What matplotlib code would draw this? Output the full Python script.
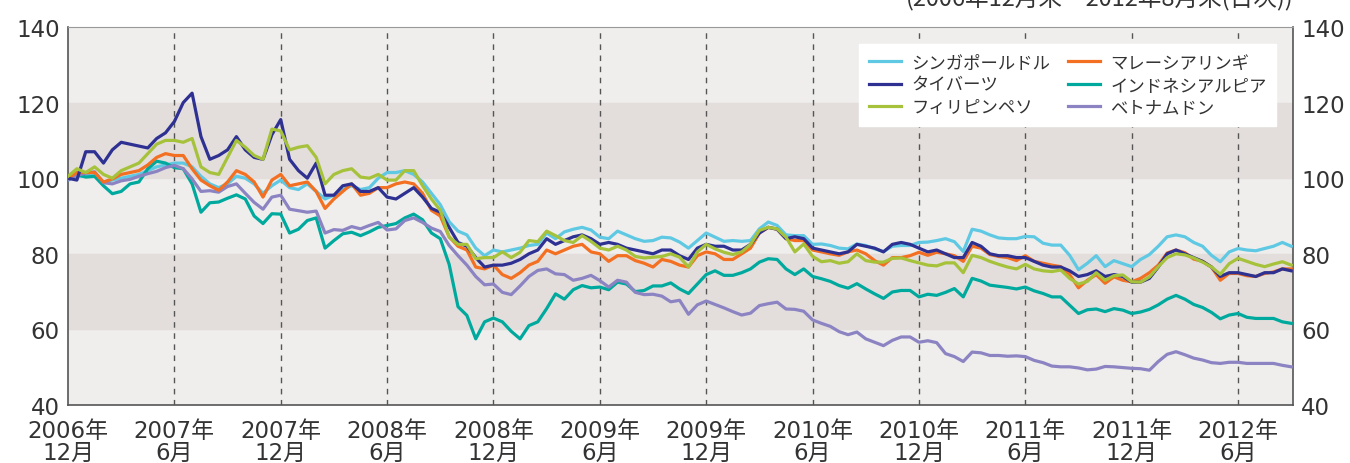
import numpy as np
import matplotlib
matplotlib.use("Agg")
import matplotlib.pyplot as plt

plt.rcParams['font.family'] = ['DejaVu Sans', 'Noto Sans CJK JP']

# months after end of Dec 2006, half-month steps
months = np.arange(0, 69.25, 0.5)

tick_months = [0, 6, 12, 18, 24, 30, 36, 42, 48, 54, 60, 66]
tick_labels = ["2006年\n12月", "2007年\n6月", "2007年\n12月", "2008年\n6月",
               "2008年\n12月", "2009年\n6月", "2009年\n12月", "2010年\n6月",
               "2010年\n12月", "2011年\n6月", "2011年\n12月", "2012年\n6月"]

sgd = [100, 100.5, 100.5, 101, 99, 99.5, 100, 100.5, 101, 102,
       103, 103.5, 104, 104, 103, 100.5, 98.5, 97.5, 98.5, 100.5,
       100, 98.5, 96, 98, 99.5, 97.5, 97, 98.5, 96.5, 94.5,
       95.5, 97, 98, 97, 97.5, 100, 101.5, 101.5, 102, 101,
       99, 96, 93, 88.5, 86, 85, 81.5, 79.5, 81, 80.5,
       81, 81.5, 82.2, 82.5, 85.5, 84, 85.8, 86.5, 87, 86.3,
       84.4, 84, 86, 85, 84, 83.3, 83.5, 84.4, 84.2, 83.1,
       81.5, 83.5, 85.5, 84.4, 83.3, 83.5, 83.3, 83.5, 86.6, 88.4,
       87.5, 85, 84.8, 84.8, 82.5, 82.6, 82.2, 81.5, 81.3, 82.6,
       82.2, 81.3, 80.6, 82, 82.2, 82.2, 83, 83.1, 83.5, 84,
       83.2, 80.6, 86.5, 86, 85, 84.2, 84, 84, 84.6, 84.5,
       82.8, 82.3, 82.3, 79.6, 75.8, 77.5, 79.5, 76.6, 78.2, 77.4,
       76.6, 78.5, 79.8, 82, 84.5, 85, 84.5, 83, 82, 79.6,
       77.9, 80.5, 81.4, 81, 80.8, 81.4, 82, 83, 82]

thb = [100, 99.5, 107, 107, 104, 107.5, 109.5, 109, 108.5, 108,
       110.5, 112, 115, 120, 122.5, 111, 105, 106, 107.5, 111,
       107.5, 105.5, 105, 111.5, 115.5, 105, 102, 100, 104, 95.5,
       95.5, 98, 98.5, 96.5, 96.5, 97.5, 95, 94.5, 96, 97.5,
       95, 92, 91, 87, 83, 82, 79, 76.5, 77, 77,
       77.5, 78.5, 80, 81, 84, 82.5, 83.5, 84.5, 85, 84,
       82.5, 83, 82.5, 81.5, 81, 80.5, 80, 81, 81, 79.5,
       78.5, 81.5, 82.5, 82, 82, 81, 81, 82.5, 85.5, 87,
       86.5, 84, 84.5, 84, 81.5, 81, 80.5, 80, 80.5, 82.5,
       82, 81.5, 80.5, 82.5, 83, 82.5, 81.5, 80.5, 81, 80,
       79, 79, 83, 82, 80, 79.5, 79.5, 79, 79, 78,
       77, 76.5, 76.5, 75.5, 74, 74.5, 75.5, 74, 74.5, 74,
       72.5, 72.5, 73.5, 76.5, 80, 81, 80, 79, 78, 76.5,
       74, 75, 75, 74.5, 74, 75, 75, 76, 75.5]

php = [100.5, 102.5, 101.5, 103, 101, 100, 102, 103, 104, 106.5,
       109, 110, 110, 109.5, 110.5, 103, 101.5, 101, 105.5, 110,
       108.2, 106, 105, 113, 112.5, 107.5, 108.2, 108.6, 105.5, 98.5,
       101, 102, 102.5, 100.3, 100, 101, 99.5, 99.5, 102, 102,
       98, 94.5, 91.5, 84.4, 82.5, 82.5, 78.7, 79, 79, 80.5,
       79, 80.4, 83.5, 83.2, 86, 84.8, 83.5, 83, 84.8, 83.3,
       81.5, 81, 82, 81, 79.3, 78.9, 79.1, 79.3, 80, 79.1,
       76.5, 80.5, 82.5, 81.3, 80.4, 79.8, 80.5, 82.5, 86.2, 87,
       86.6, 84.4, 80.5, 82.6, 79.3, 77.9, 78.2, 77.5, 77.9, 80,
       78.2, 77.8, 77.8, 78.8, 78.9, 78.2, 77.6, 77, 76.8, 77.6,
       77.6, 75, 79.6, 79, 78, 77.2, 76.5, 76, 77.2, 76,
       75.5, 75.3, 75.7, 73.5, 72, 72.7, 75, 73, 74.2, 74.4,
       72.6, 72.5, 73.9, 76.6, 79, 80, 79.7, 78.9, 77.8, 76.5,
       74.6, 77.4, 78.8, 78, 77.2, 76.6, 77.3, 77.9, 77]

myr = [100, 101.5, 101.5, 101.5, 99, 99.8, 101, 101.5, 102, 103.5,
       105.5, 106.5, 106, 106, 102.5, 99.5, 98, 96.8, 99, 102,
       101, 99, 95, 99.5, 101, 98, 98.5, 99, 96.5, 92,
       94.5, 96.5, 98.5, 95.5, 96, 97.5, 97.5, 98.5, 99, 98.5,
       96, 91.5, 90, 84.5, 82, 81, 76.5, 76, 77, 74.5,
       73.5, 75, 77, 78, 81, 80, 81, 82, 82.5, 80.5,
       80, 78, 79.5, 79.5, 78.2, 77.5, 76.5, 78.5, 78, 77,
       76.5, 79.5, 80.5, 80, 78.5, 78.5, 80, 81.5, 85.5, 87,
       86.5, 84, 83.5, 83.5, 81, 80.5, 80, 79.6, 80.5, 81,
       80, 78.2, 77, 79, 79, 79.5, 80.4, 79.6, 80.4, 80,
       79.5, 78, 82, 81.5, 79.8, 79.3, 79, 78.2, 79.5, 78,
       77.5, 77, 76.6, 74.5, 71, 73, 74.5, 72.2, 73.9, 73,
       72.6, 73.5, 75, 77, 80.2, 81, 80.3, 78.6, 78, 76.5,
       73, 74.8, 74.8, 74.2, 74, 74.8, 75.2, 76, 76]

idr = [99.5, 101, 100.3, 100.5, 98, 95.9, 96.5, 98.5, 99, 102.5,
       104.5, 104, 102.8, 102.5, 98.5, 91, 93.5, 93.7, 94.7, 95.6,
       94.5, 90, 88, 90.6, 90.5, 85.5, 86.5, 88.8, 89.5, 81.5,
       83.5, 85.3, 85.7, 84.8, 85.8, 87, 87.5, 88, 89.5, 90.5,
       89, 85.5, 84, 77.2, 66, 63.7, 57.5, 62, 63, 62,
       59.5, 57.5, 61, 62, 65.5, 69.4, 68, 70.5, 71.6, 71,
       71.2, 70.5, 72.5, 72, 70, 70.3, 71.5, 71.5, 72.3, 70.7,
       69.5, 72, 74.5, 75.5, 74.3, 74.3, 75, 76, 77.8, 78.7,
       78.5, 76, 74.5, 76, 74, 73.4, 72.7, 71.6, 70.9, 72.1,
       70.7, 69.4, 68.2, 69.9, 70.3, 70.3, 68.6, 69.3, 69, 69.8,
       70.8, 68.6, 73.5, 72.8, 71.7, 71.4, 71.1, 70.7, 71.2, 70.2,
       69.5, 68.6, 68.6, 66.4, 64.2, 65.2, 65.4, 64.7, 65.5, 65.1,
       64.2, 64.6, 65.3, 66.5, 68, 69, 68, 66.6, 65.8, 64.5,
       62.8, 63.8, 64.2, 63.2, 62.9, 62.9, 62.9, 62, 61.6]

vnd = [99.5, 100.8, 101.3, 101.7, 98.8, 98.5, 99.3, 99.7, 100.5, 101.2,
       101.8, 102.8, 103.4, 102.5, 99.8, 96.5, 96.7, 96.3, 97.8, 98.5,
       96, 93.6, 91.8, 95, 95.5, 91.8, 91.4, 91, 91.3, 85.5,
       86.4, 86.2, 87.2, 86.6, 87.5, 88.3, 86.3, 86.6, 88.8, 89.5,
       88.3, 86.8, 85.9, 82.2, 79.5, 77, 74, 71.8, 72, 69.8,
       69.2, 71.5, 74, 75.6, 76, 74.7, 74.5, 73, 73.5, 74.3,
       72.9, 71.2, 73, 72.5, 69.8, 69.2, 69.3, 68.8, 67.3, 67.7,
       64, 66.5, 67.5, 66.6, 65.7, 64.7, 63.8, 64.3, 66.3, 66.8,
       67.2, 65.4, 65.3, 64.8, 62.5, 61.6, 60.8, 59.4, 58.6, 59.3,
       57.5, 56.6, 55.7, 57.1, 58, 58, 56.6, 57, 56.5, 53.6,
       52.8, 51.5, 54, 53.8, 53.1, 53.1, 52.9, 53, 52.8, 51.8,
       51.2, 50.3, 50.1, 50.1, 49.8, 49.3, 49.5, 50.2, 50.1, 49.9,
       49.7, 49.6, 49.2, 51.5, 53.4, 54.1, 53.3, 52.4, 51.9, 51.2,
       51, 51.3, 51.3, 51, 51, 51, 51, 50.5, 50.1]

fig = plt.figure(figsize=(13.5, 4.64), dpi=100)
ax = fig.add_axes([68 / 1350, 1 - 406 / 464, (1293 - 68) / 1350, (406 - 28) / 464])

ax.set_facecolor('#efeeed')
ax.axhspan(60, 80, color='#e3dedc', zorder=0)
ax.axhspan(100, 120, color='#e3dedc', zorder=0)
for m in tick_months[1:]:
    ax.axvline(m, color='#555555', lw=1.0, ls=(0, (4, 4)), zorder=1)

lw = 2.3
ax.plot(months, sgd, color='#5fc9e3', lw=lw, label='シンガポールドル', zorder=3)
ax.plot(months, idr, color='#00a99d', lw=lw, label='インドネシアルピア', zorder=3)
ax.plot(months, vnd, color='#8c84c2', lw=lw, label='ベトナムドン', zorder=3)
ax.plot(months, myr, color='#f36f21', lw=lw, label='マレーシアリンギ', zorder=3)
ax.plot(months, thb, color='#2e3192', lw=lw, label='タイバーツ', zorder=3)
ax.plot(months, php, color='#a6c23b', lw=lw, label='フィリピンペソ', zorder=3)

ax.set_xlim(0, 69.1)
ax.set_ylim(40, 140)
ax.set_xticks(tick_months)
ax.set_xticklabels(tick_labels, linespacing=0.95)
ax.set_yticks([40, 60, 80, 100, 120, 140])
ax.tick_params(axis='both', length=0, labelsize=16.5, colors='#333333')
ax.tick_params(axis='x', pad=10)
ax.tick_params(axis='y', pad=6, labelright=True)
for s in ['left', 'bottom', 'right']:
    ax.spines[s].set_color('#555555')
    ax.spines[s].set_linewidth(1.2)
ax.spines['top'].set_color('#999999')

h, l = ax.get_legend_handles_labels()
order = [0, 4, 5, 3, 1, 2]
leg = ax.legend([h[i] for i in order], [l[i] for i in order], ncol=2,
                loc='upper right', bbox_to_anchor=(1 - 17 / 1225, 1 - 17 / 378),
                borderaxespad=0, frameon=True, fancybox=False,
                prop={'family': ['Noto Sans CJK JP', 'DejaVu Sans'], 'size': 12.5},
                handlelength=1.85, handletextpad=0.6, columnspacing=1.0,
                labelspacing=0.25, borderpad=0.55)
leg.get_frame().set_facecolor('white')
leg.get_frame().set_edgecolor('white')
leg.get_frame().set_alpha(1.0)
for t in leg.get_texts():
    t.set_color('#333333')

fig.text(1293 / 1350, 1 - 5 / 464, '(2006年12月末～2012年8月末(日次))',
         ha='right', va='baseline', fontsize=17, color='#333333',
         family=['Noto Sans CJK JP', 'DejaVu Sans'])

fig.savefig('out.png', dpi=100)
